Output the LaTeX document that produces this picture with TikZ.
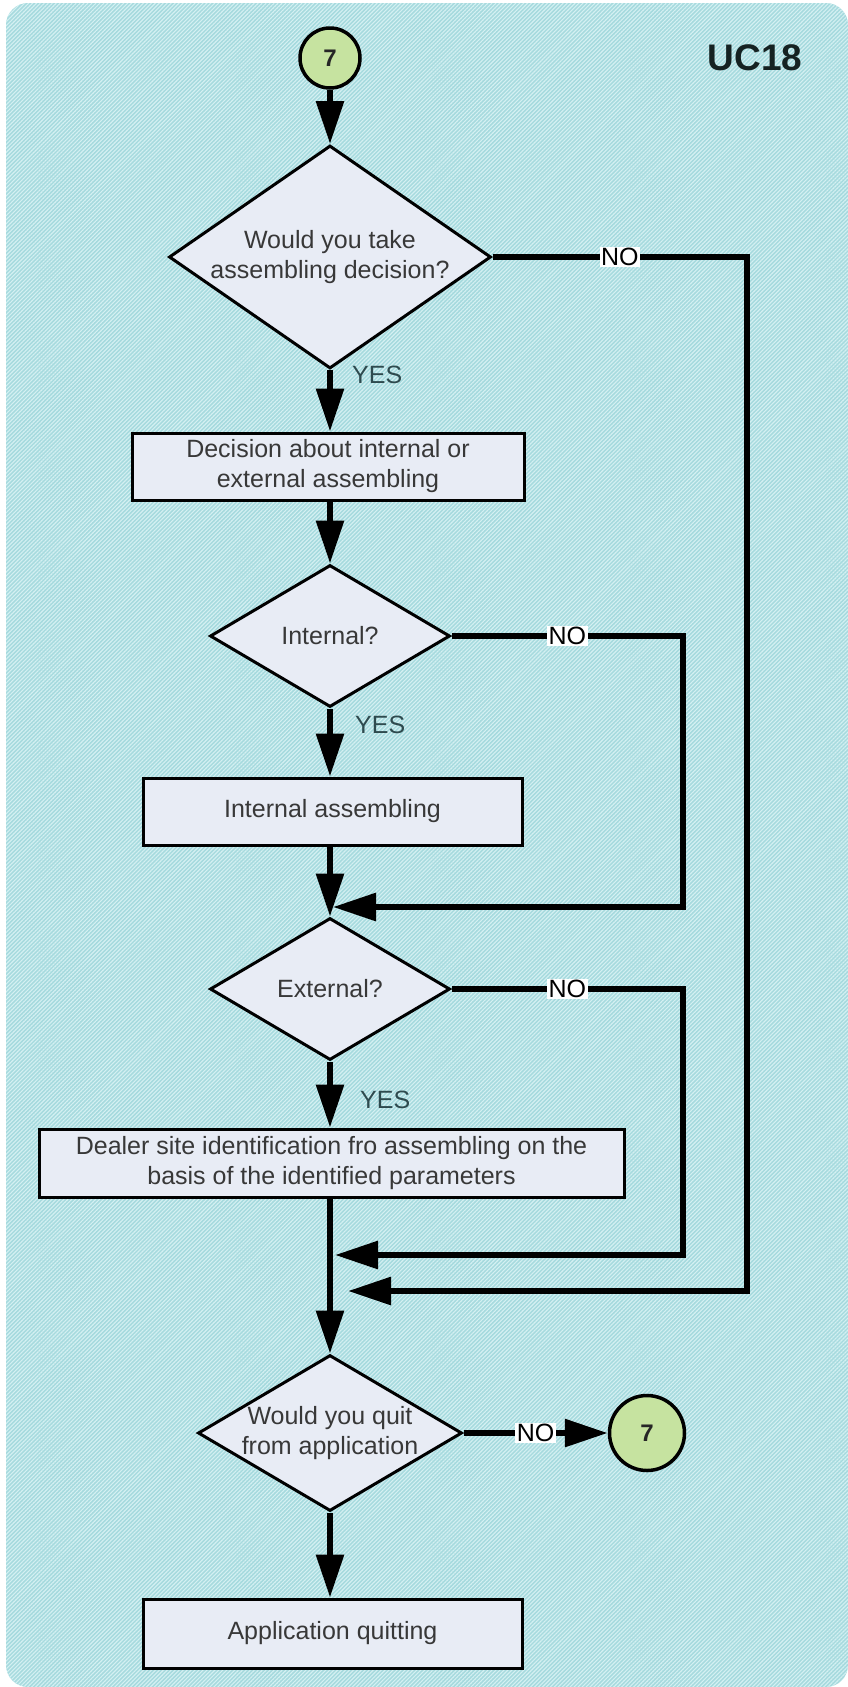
\documentclass[tikz,border=0pt]{standalone}
\usepackage{fontspec}
\setmainfont{Liberation Sans}
\usetikzlibrary{shapes.geometric, arrows.meta, patterns.meta}

\definecolor{bgbase}{HTML}{A6DADE}
\definecolor{bgstripe}{HTML}{D4F0F2}
\definecolor{shapefill}{HTML}{E8ECF5}
\definecolor{pagefill}{HTML}{C6E3A0}
\definecolor{txtgray}{HTML}{383838}
\definecolor{yesgray}{HTML}{2E4A4E}
\definecolor{titleink}{HTML}{152222}

\begin{document}
\begin{tikzpicture}[x=1pt, y=-1pt,
  every node/.style={font=\fontsize{25}{30}\selectfont},
  process/.style={rectangle, draw=black, line width=3pt, fill=shapefill,
    inner sep=0pt, align=center, text=txtgray},
  decision/.style={diamond, draw=black, line width=3pt, fill=shapefill,
    inner sep=0pt},
  dtext/.style={align=center, inner sep=0pt, text=txtgray},
  pageref/.style={circle, draw=black, line width=3.5pt, fill=pagefill,
    inner sep=0pt, minimum size=#1,
    font=\fontsize{24}{24}\selectfont\bfseries, text=black!85},
  flowarrow/.style={line width=6pt, -{Triangle[length=43pt,width=27pt]}},
  nolabel/.style={fill=white, inner sep=1.5pt, text=black},
  yeslabel/.style={text=yesgray, inner sep=0pt, anchor=west},
]
% page area with striped backdrop
\useasboundingbox (0,0) rectangle (848,1687);
\fill[bgbase, rounded corners=22pt] (6,3) rectangle (848,1687);
\fill[pattern={Lines[angle=45,distance=2.8pt,line width=1.1pt]},
  pattern color=bgstripe, rounded corners=22pt] (6,3) rectangle (848,1687);

\node[font=\fontsize{37}{37}\selectfont\bfseries, text=titleink] (uc) at (755,58) {UC18};

% flow elements
\node[pageref=60pt] (top7) at (330,58) {7};
\node[decision, minimum width=322pt, minimum height=223pt,
  label={[dtext]center:{Would you take\\assembling decision?}}] (q1) at (330,257) {};
\node[process, minimum width=392pt, minimum height=67pt] (b1) at (328,466.5)
  {Decision about internal or\\external assembling};
\node[decision, minimum width=240pt, minimum height=142pt,
  label={[dtext]center:{Internal?}}] (q2) at (330,636) {};
\node[process, minimum width=379pt, minimum height=67pt] (b2) at (332.5,811.5)
  {Internal assembling};
\node[decision, minimum width=240pt, minimum height=142pt,
  label={[dtext]center:{External?}}] (q3) at (330,989) {};
\node[process, minimum width=585pt, minimum height=68pt] (b3) at (331.5,1163)
  {Dealer site identification fro assembling on the\\basis of the identified parameters};
\node[decision, minimum width=264pt, minimum height=156pt,
  label={[dtext]center:{Would you quit\\from application}}] (q4) at (330,1433) {};
\node[process, minimum width=379pt, minimum height=69pt] (b4) at (332.5,1633.5)
  {Application quitting};
\node[pageref=75pt] (bot7) at (647,1433) {7};

% YES labels
\node[yeslabel] (y1) at (352,375) {YES};
\node[yeslabel] (y2) at (355,725) {YES};
\node[yeslabel] (y3) at (360,1100) {YES};

% bend points of the NO branches
\coordinate (k1) at (747,1291);
\coordinate (k2) at (683,907);
\coordinate (k3) at (683,1255);
\coordinate (j1) at (348,1291);
\coordinate (j2) at (333,907);
\coordinate (j3) at (335,1255);

% main path
\draw[flowarrow] (top7.south) -- (q1.north);
\draw[flowarrow] (q1.south) -- (q1.south |- b1.north);
\draw[flowarrow] (q1.south |- b1.south) -- (q2.north);
\draw[flowarrow] (q2.south) -- (q2.south |- b2.north);
\draw[flowarrow] (q2.south |- b2.south) -- (q3.north);
\draw[flowarrow] (q3.south) -- (q3.south |- b3.north);
\draw[flowarrow] (q3.south |- b3.south) -- (q4.north);
\draw[flowarrow] (q4.south) -- (q4.south |- b4.north);

% NO branches
\draw[flowarrow] (q1.east) -- node[nolabel] (n1) {NO} (q1.east -| k1) -- (k1) -- (j1);
\draw[flowarrow] (q2.east) -- node[nolabel] (n2) {NO} (q2.east -| k2) -- (k2) -- (j2);
\draw[flowarrow] (q3.east) -- node[nolabel] (n3) {NO} (q3.east -| k3) -- (k3) -- (j3);
\draw[flowarrow] (q4.east) -- node[nolabel] (n4) {NO} (bot7.west);
\end{tikzpicture}
\end{document}
